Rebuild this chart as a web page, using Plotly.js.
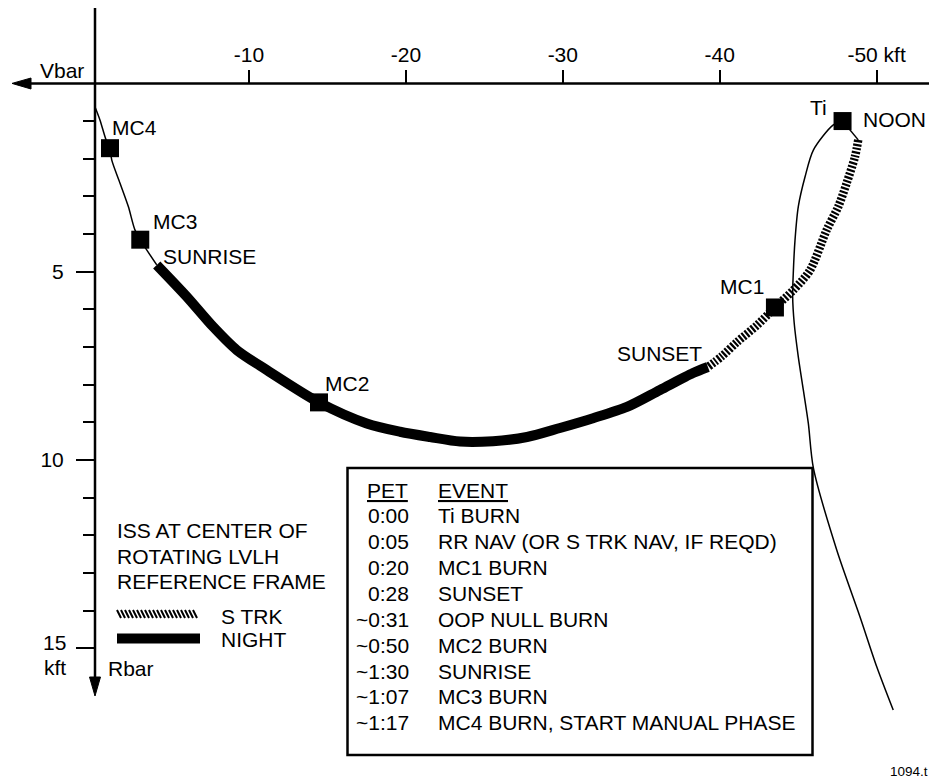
<!DOCTYPE html>
<html><head><meta charset="utf-8">
<script src="https://cdn.plot.ly/plotly-3.0.1.min.js"></script>
<style>html,body{margin:0;padding:0;background:#fff;overflow:hidden}#chart{width:929px;height:778px}</style>
</head><body><div id="chart"></div>
<script>
// ---- axis ticks ----
const xTickVals = [-10, -20, -30, -40, -50];
const xTickText = ['-10', '-20', '-30', '-40', '-50 kft'];
const yTickVals = [5, 10, 15];
const yTickText = ['5', '10', '15'];
const yUnit = 'kft';
const yMinorVals = [1, 2, 3, 4, 6, 7, 8, 9, 11, 12, 13, 14];

// ---- trajectory (kft; x = V-bar, y = R-bar) ----
// approach coast leading to Ti (drawn from Ti downward)
const approachX = [-47.83, -47.22, -45.97, -45.44, -45.01, -44.80, -44.69, -44.65, -44.75, -45.01, -45.33, -45.65, -45.97, -47.46, -48.94, -50.01, -51.06];
const approachY = [1.00, 1.11, 1.77, 2.48, 3.27, 4.16, 5.04, 5.66, 6.37, 7.26, 8.14, 9.03, 10.21, 12.39, 14.16, 15.49, 16.64];
// Ti to start of S TRK (daylight, before nav)
const coastX = [-47.83, -48.83];
const coastY = [1.00, 1.50];
// S TRK portion (Ti+0:05 .. SUNSET)
const strkX = [-48.83, -48.62, -48.09, -47.56, -46.82, -45.76, -44.69, -43.52, -42.38, -41.10, -40.15, -39.25];
const strkY = [1.50, 1.95, 2.65, 3.27, 3.89, 4.96, 5.49, 5.95, 6.42, 6.87, 7.24, 7.53];
// NIGHT portion (SUNSET .. SUNRISE)
const nightX = [-39.25, -38.30, -36.20, -34.09, -31.93, -29.82, -27.72, -25.55, -23.45, -21.54, -19.62, -17.50, -14.46, -11.13, -9.22, -7.71, -6.03, -4.12];
const nightY = [7.53, 7.69, 8.14, 8.59, 8.89, 9.15, 9.39, 9.50, 9.51, 9.39, 9.25, 9.03, 8.47, 7.61, 7.08, 6.46, 5.66, 4.82];
// final approach after SUNRISE
const finalX = [-4.12, -3.48, -3.07, -2.73, -2.31, -1.78, -1.25, -1.14, -0.89, -0.50, -0.18];
const finalY = [4.82, 4.42, 4.15, 3.89, 3.27, 2.65, 2.03, 1.72, 1.50, 0.97, 0.62];
// burns
const burnNames = ['Ti', 'MC1', 'MC2', 'MC3', 'MC4'];
const burnX = [-47.83, -43.52, -14.46, -3.07, -1.14];
const burnY = [1.00, 5.95, 8.47, 4.15, 1.72];

// ---- timeline table ----
const petTimes = ['0:00', '0:05', '0:20', '0:28', '~0:31', '~0:50', '~1:30', '~1:07', '~1:17'];
const petEvents = ['Ti BURN', 'RR NAV (OR S TRK NAV, IF REQD)', 'MC1 BURN', 'SUNSET', 'OOP NULL BURN', 'MC2 BURN', 'SUNRISE', 'MC3 BURN', 'MC4 BURN, START MANUAL PHASE'];
const noteLines = ['ISS AT CENTER OF', 'ROTATING LVLH', 'REFERENCE FRAME'];

// ---- helpers (pixel -> paper) ----
const W = 929, H = 778;
const PX = x => x / W;
const PY = y => 1 - y / H;
function lbl(text, x, y, xa, size) {
  return {text: text, x: PX(x), y: PY(y), xref: 'paper', yref: 'paper', xanchor: xa || 'left', yanchor: 'middle',
    showarrow: false, borderpad: 0, borderwidth: 0, font: {size: size || 21, color: '#000'}};
}

const hatchDash = '2.2px,1.6px';
const thin = {color: '#000', width: 1.5, shape: 'spline', smoothing: 0.8};
const traces = [
  {x: approachX, y: approachY, mode: 'lines', line: thin, hoverinfo: 'skip'},
  {x: coastX, y: coastY, mode: 'lines', line: {color: '#000', width: 1.5}, hoverinfo: 'skip'},
  {x: finalX, y: finalY, mode: 'lines', line: thin, hoverinfo: 'skip'},
  {x: nightX, y: nightY, mode: 'lines', name: 'NIGHT', line: {color: '#000', width: 10, shape: 'spline', smoothing: 0.8}, hoverinfo: 'skip'},
  {x: strkX, y: strkY, mode: 'lines', name: 'S TRK', line: {color: '#000', width: 8.5, dash: hatchDash, shape: 'spline', smoothing: 0.8}, hoverinfo: 'skip'},
  {x: burnX, y: burnY, text: burnNames, mode: 'markers', marker: {symbol: 'square', size: 18, color: '#000'}, hoverinfo: 'text'}
];

const annotations = [
  lbl('Vbar', 40, 70),
  lbl('Rbar', 108, 668),
  // last R-bar tick label sits slightly above its tick to make room for the unit
  lbl(yTickText[yTickText.length - 1], 66, 642, 'right'),
  lbl(yUnit, 66, 667, 'right'),
  lbl('Ti', 827, 107.5, 'right'),
  lbl('NOON', 863, 119),
  lbl('MC4', 111.7, 127.5),
  lbl('MC3', 152.7, 221.5),
  lbl('SUNRISE', 163, 256.7),
  lbl('MC2', 325, 383),
  lbl('MC1', 720, 286.7),
  lbl('SUNSET', 616.7, 354),
  lbl('S TRK', 221, 616.5),
  lbl('NIGHT', 221, 639),
  lbl('1094.t', 928, 771, 'right', 13.5),
  lbl('<u>PET</u>', 408, 490, 'right'),
  lbl('<u>EVENT</u>', 438.4, 490)
];
noteLines.forEach((t, i) => annotations.push(lbl(t, 117, 530.7 + i * 25.5)));
petTimes.forEach((t, i) => {
  annotations.push(lbl(t, 409, 515.3 + i * 25.95, 'right'));
  annotations.push(lbl(petEvents[i], 438.4, 515.3 + i * 25.95));
});

// diagonal hatch for the S TRK legend sample
let hatchPath = '';
for (let sx = 117; sx <= 196; sx += 4) {
  hatchPath += `M ${PX(sx)} ${PY(610)} L ${PX(sx + 4)} ${PY(618)} `;
}

const shapes = [
  // V-bar axis line with arrow
  {type: 'line', xref: 'paper', yref: 'paper', x0: PX(28), x1: PX(929), y0: PY(83.4), y1: PY(83.4), line: {color: '#000', width: 2.5}},
  {type: 'path', xref: 'paper', yref: 'paper', path: `M ${PX(12)} ${PY(83.4)} L ${PX(31)} ${PY(78)} L ${PX(31)} ${PY(89)} Z`, fillcolor: '#000', line: {color: '#000', width: 1}},
  // R-bar axis line with arrow
  {type: 'line', xref: 'paper', yref: 'paper', x0: PX(95), x1: PX(95), y0: PY(8), y1: PY(680), line: {color: '#000', width: 2.5}},
  {type: 'path', xref: 'paper', yref: 'paper', path: `M ${PX(95)} ${PY(696)} L ${PX(89.5)} ${PY(677)} L ${PX(100.5)} ${PY(677)} Z`, fillcolor: '#000', line: {color: '#000', width: 1}},
  // table box
  {type: 'rect', xref: 'paper', yref: 'paper', x0: PX(347.5), x1: PX(812.5), y0: PY(755), y1: PY(468), line: {color: '#000', width: 2.5}},
  // legend samples
  {type: 'path', xref: 'paper', yref: 'paper', path: hatchPath, line: {color: '#000', width: 2}},
  {type: 'line', xref: 'paper', yref: 'paper', x0: PX(117), x1: PX(200), y0: PY(638.5), y1: PY(638.5), line: {color: '#000', width: 10}}
];

const layout = {
  width: W, height: H,
  margin: {l: 0, r: 0, t: 0, b: 0, pad: 0},
  paper_bgcolor: '#fff', plot_bgcolor: '#fff',
  showlegend: false,
  font: {family: '"Liberation Sans", Arial, Helvetica, sans-serif', size: 21, color: '#000'},
  xaxis: {
    range: [5.870, -53.34], side: 'top', anchor: 'free', position: 1 - 83.4 / H,
    tickmode: 'array', tickvals: xTickVals, ticktext: xTickText,
    ticks: 'outside', ticklen: 13, tickwidth: 2, tickcolor: '#000',
    showline: false, showgrid: false, zeroline: false, tickfont: {size: 21},
    fixedrange: true
  },
  yaxis: {
    range: [(778 - 83.4) / 37.66, -83.4 / 37.66], anchor: 'free', position: 95 / W,
    tickmode: 'array', tickvals: yTickVals,
    ticktext: yTickText.map((t, i) => i === yTickText.length - 1 ? '' : t),
    ticks: 'outside', ticklen: 19, tickwidth: 2, tickcolor: '#000',
    minor: {tickmode: 'array', tickvals: yMinorVals, ticks: 'outside', ticklen: 12, tickwidth: 2, tickcolor: '#000', showgrid: false},
    showline: false, showgrid: false, zeroline: false, tickfont: {size: 21},
    ticklabelstandoff: 8, fixedrange: true
  },
  shapes: shapes,
  annotations: annotations
};

Plotly.newPlot('chart', traces, layout, {displayModeBar: false, staticPlot: true});
</script>
</body></html>
